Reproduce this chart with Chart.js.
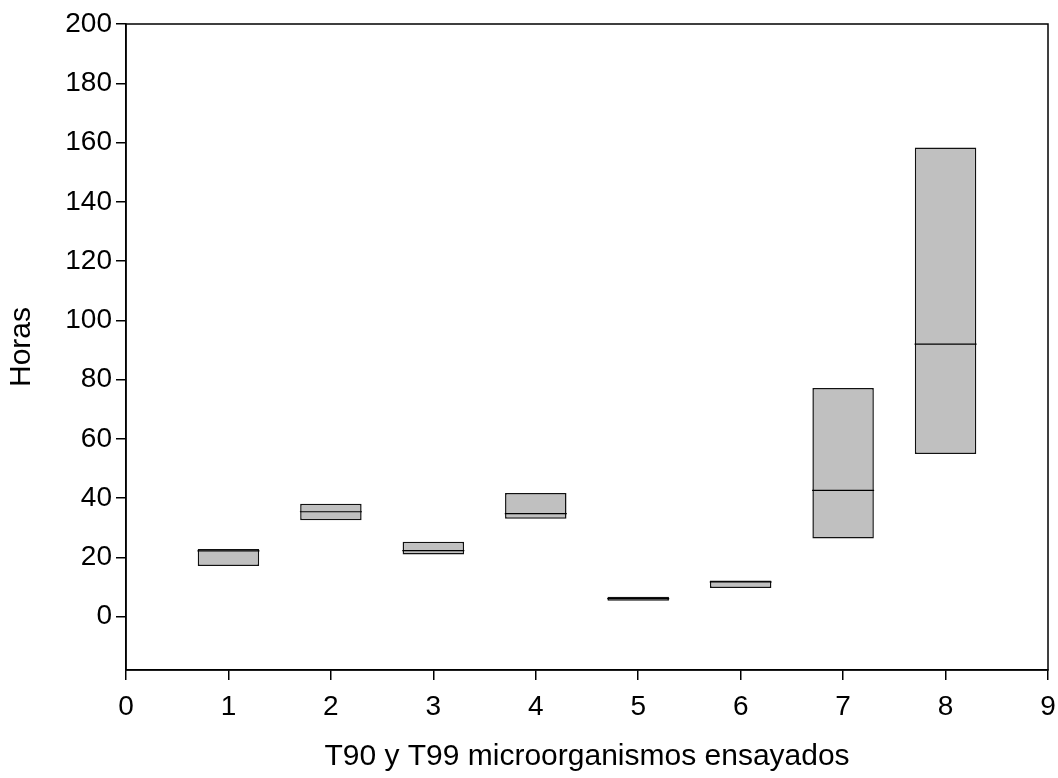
<!DOCTYPE html>
<html>
<head>
<meta charset="utf-8">
<script src="https://cdn.jsdelivr.net/npm/chart.js@4/dist/chart.umd.min.js"></script>
<style>
  html, body { margin: 0; padding: 0; background: #fff; }
  #chart { display: block; }
</style>
</head>
<body>
<canvas id="chart" width="1058" height="778"></canvas>
<script>
'use strict';
const categories = [1, 2, 3, 4, 5, 6, 7, 8];
const boxLow = [17.1, 32.5, 21.0, 33.0, 5.4, 9.7, 26.4, 54.9];
const boxHigh = [22.8, 38.1, 25.3, 41.7, 6.7, 12.2, 77.2, 158.3];
const medians = [22.2, 35.4, 22.3, 34.8, 6.1, 11.7, 42.6, 92.0];
const xTicks = [0, 1, 2, 3, 4, 5, 6, 7, 8, 9];
const yTicks = [0, 20, 40, 60, 80, 100, 120, 140, 160, 180, 200];

const fontFamily = '"Liberation Sans", Arial, sans-serif';

const boxData = categories.map((c, i) => ({x: c, y: [boxLow[i], boxHigh[i]]}));
const medianData = categories.map((c, i) => ({x: c, y: medians[i]}));

// frame on top and right like the original plot box
const framePlugin = {
  id: 'frame',
  afterDraw(chart){
    const a = chart.chartArea;
    const ctx = chart.ctx;
    ctx.save();
    ctx.strokeStyle = '#000';
    ctx.lineWidth = 1.5;
    ctx.strokeRect(a.left, a.top, a.right - a.left, a.bottom - a.top);
    ctx.restore();
  }
};

const ctx = document.getElementById('chart').getContext('2d');
new Chart(ctx, {
  type: 'bar',
  data: {
    datasets: [{
      type: 'line',
      label: 'Mediana',
      data: medianData,
      showLine: false,
      pointStyle: 'line',
      pointRadius: 31,
      pointHoverRadius: 31,
      pointBorderWidth: 1.2,
      borderColor: '#000',
      backgroundColor: '#000',
      order: 0
    }, {
      label: 'T90 - T99',
      data: boxData,
      backgroundColor: '#c0c0c0',
      borderColor: '#111',
      borderWidth: 1.5,
      borderSkipped: false,
      barPercentage: 0.6,
      categoryPercentage: 1,
      order: 1
    }]
  },
  options: {
    responsive: false,
    animation: false,
    layout: { autoPadding: false, padding: { top: 24, right: 10, left: 0, bottom: 0 } },
    plugins: {
      legend: { display: false },
      tooltip: { enabled: false }
    },
    scales: {
      x: {
        type: 'linear',
        min: 0,
        max: 9,
        offset: false,
        afterBuildTicks: scale => { scale.ticks = xTicks.map(v => ({value: v})); },
        afterFit: scale => {
          scale.height = 108;
          scale.paddingLeft = 0;
          scale.paddingRight = 0;
        },
        grid: { drawOnChartArea: false, drawTicks: true, tickLength: 10, color: '#000', lineWidth: 1.5, offset: false },
        border: { display: true, color: '#000', width: 1.5 },
        ticks: { color: '#000', padding: 10, maxRotation: 0, font: { family: fontFamily, size: 28 } },
        title: {
          display: true,
          text: 'T90 y T99 microorganismos ensayados',
          color: '#000',
          padding: { top: 0, bottom: 3 },
          font: { family: fontFamily, size: 30 }
        }
      },
      y: {
        type: 'linear',
        min: -18,
        max: 200,
        afterBuildTicks: scale => { scale.ticks = yTicks.map(v => ({value: v})); },
        afterFit: scale => {
          scale.width = 126;
          scale.paddingTop = 0;
          scale.paddingBottom = 0;
        },
        grid: { drawOnChartArea: false, drawTicks: true, tickLength: 10, color: '#000', lineWidth: 1.5 },
        border: { display: true, color: '#000', width: 1.5 },
        ticks: { color: '#000', padding: 4, font: { family: fontFamily, size: 28 } },
        title: {
          display: true,
          text: 'Horas',
          color: '#000',
          padding: { top: 4, bottom: 0 },
          font: { family: fontFamily, size: 30 }
        }
      }
    }
  },
  plugins: [framePlugin]
});
</script>
</body>
</html>
